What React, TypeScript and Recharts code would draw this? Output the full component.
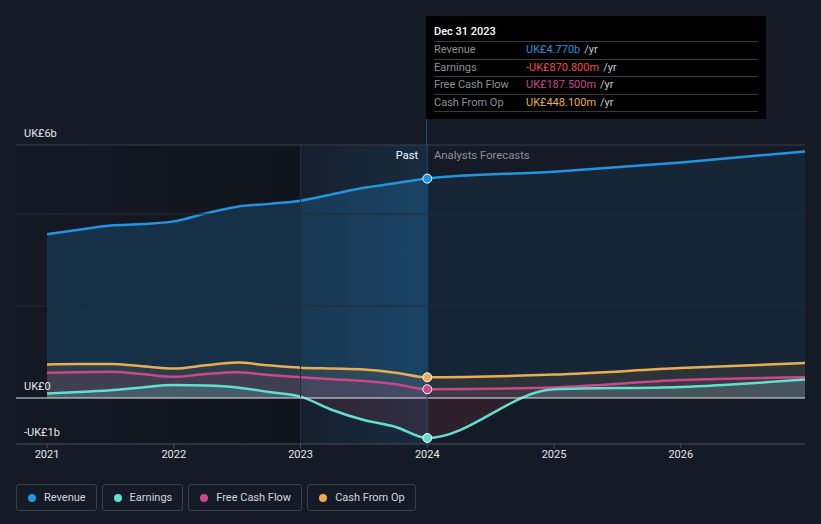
import { ComposedChart, Area, XAxis, YAxis, ReferenceLine, ReferenceArea, ReferenceDot } from 'recharts'

// period (decimal year) and values in UK£ billions
const periods = [2021, 2021.25, 2021.5, 2021.75, 2022, 2022.25, 2022.5, 2022.75, 2023, 2023.25, 2023.5, 2023.75, 2024, 2025, 2026, 2026.98]
const revenue = [3.56, 3.66, 3.75, 3.78, 3.84, 4.01, 4.16, 4.22, 4.29, 4.43, 4.57, 4.67, 4.77, 4.92, 5.12, 5.36]
const earnings = [0.1, 0.13, 0.17, 0.23, 0.28, 0.27, 0.23, 0.13, 0.03, -0.26, -0.48, -0.63, -0.87, 0.19, 0.24, 0.4]
const freeCashFlow = [0.55, 0.56, 0.57, 0.52, 0.46, 0.52, 0.56, 0.5, 0.45, 0.41, 0.37, 0.3, 0.19, 0.23, 0.39, 0.45]
const cashFromOp = [0.73, 0.74, 0.74, 0.69, 0.64, 0.71, 0.77, 0.71, 0.66, 0.64, 0.62, 0.55, 0.45, 0.51, 0.65, 0.76]

const xTicks = [2021, 2022, 2023, 2024, 2025, 2026]
const PAST_END = 2024
const HIGHLIGHT_START = 2023

const tooltipDate = 'Dec 31 2023'
const tooltipRows = [
  { name: 'Revenue', value: 'UK£4.770b', color: '#2394df' },
  { name: 'Earnings', value: '-UK£870.800m', color: '#f04a45' },
  { name: 'Free Cash Flow', value: 'UK£187.500m', color: '#c9488a' },
  { name: 'Cash From Op', value: 'UK£448.100m', color: '#e9ae55' },
]

const COLORS = {
  revenue: '#2394df',
  earnings: '#62e0cf',
  fcf: '#c9488a',
  cfo: '#e9ae55',
}

const legendItems = [
  { name: 'Revenue', color: COLORS.revenue },
  { name: 'Earnings', color: COLORS.earnings },
  { name: 'Free Cash Flow', color: COLORS.fcf },
  { name: 'Cash From Op', color: COLORS.cfo },
]

const data = periods.map((x, i) => ({
  x,
  revenue: revenue[i],
  earnings: earnings[i],
  fcf: freeCashFlow[i],
  cfo: cashFromOp[i],
}))

const pastIdx = periods.indexOf(PAST_END)
const FONT = 'Roboto, "Noto Sans", sans-serif'
const BG = '#151b26'

export default function App() {
  const yLabel = (text: string) => ({
    value: text,
    position: 'insideBottomLeft' as const,
    offset: 8,
    fill: '#e6e6e6',
    fontSize: 11,
    fontFamily: FONT,
  })

  return (
    <div style={{ position: 'absolute', left: 0, top: 0, width: 821, height: 524, background: BG, fontFamily: FONT, overflow: 'hidden' }}>
      <ComposedChart width={821} height={524} data={data} margin={{ top: 145, right: 16, bottom: 50, left: 16 }}>
        <defs>
          <linearGradient id="pastShade" x1="0" y1="0" x2="1" y2="0">
            <stop offset="0%" stopColor="#0c0f15" stopOpacity={0.15} />
            <stop offset="100%" stopColor="#0c0f15" stopOpacity={0.55} />
          </linearGradient>
          <linearGradient id="highlight" x1="0" y1="0" x2="1" y2="0">
            <stop offset="0%" stopColor="#2394df" stopOpacity={0.04} />
            <stop offset="100%" stopColor="#2394df" stopOpacity={0.14} />
          </linearGradient>
          <linearGradient id="revFill" x1="0" y1="0" x2="1" y2="0">
            <stop offset="0%" stopColor="#2394df" stopOpacity={0.2} />
            <stop offset="50.1%" stopColor="#2394df" stopOpacity={0.22} />
            <stop offset="50.1%" stopColor="#2394df" stopOpacity={0.09} />
            <stop offset="100%" stopColor="#2394df" stopOpacity={0.09} />
          </linearGradient>
          <linearGradient id="earnFill" gradientUnits="userSpaceOnUse" x1="0" y1="145" x2="0" y2="444">
            <stop offset="84.6%" stopColor="#62e0cf" stopOpacity={0.18} />
            <stop offset="84.6%" stopColor="#e0405a" stopOpacity={0.12} />
          </linearGradient>
        </defs>

        <ReferenceArea x1={2020.755} x2={HIGHLIGHT_START} fill="url(#pastShade)" fillOpacity={1} stroke="none" />
        <ReferenceArea x1={HIGHLIGHT_START} x2={PAST_END} fill="url(#highlight)" fillOpacity={1} stroke="none" />
        <ReferenceLine x={HIGHLIGHT_START} stroke="#22303f" strokeWidth={1} />

        <ReferenceLine y={2} stroke="#232c39" strokeWidth={1} />
        <ReferenceLine y={4} stroke="#232c39" strokeWidth={1} />
        <ReferenceLine y={5.5} stroke="#3b4049" strokeWidth={1} label={yLabel('UK£6b')} />
        <ReferenceLine y={-1} stroke="none" label={yLabel('-UK£1b')} />

        <XAxis
          type="number"
          dataKey="x"
          domain={[2020.755, 2026.98]}
          ticks={xTicks}
          height={30}
          allowDataOverflow
          axisLine={{ stroke: '#4a4f58' }}
          tickLine={{ stroke: '#4a4f58' }}
          tickSize={4}
          tick={{ fill: '#e6e6e6', fontSize: 11, fontFamily: FONT }}
          tickFormatter={(v) => String(v)}
        />
        <YAxis hide domain={[-1, 5.5]} allowDataOverflow />

        <Area type="monotone" dataKey="revenue" stroke={COLORS.revenue} strokeWidth={2.5} fill="url(#revFill)" fillOpacity={1} isAnimationActive={false} dot={false} activeDot={false} />
        <Area type="monotone" dataKey="cfo" stroke={COLORS.cfo} strokeWidth={2.5} fill={COLORS.cfo} fillOpacity={0.1} baseValue={0} isAnimationActive={false} dot={false} activeDot={false} />
        <Area type="monotone" dataKey="fcf" stroke={COLORS.fcf} strokeWidth={2.5} fill={COLORS.fcf} fillOpacity={0.14} baseValue={0} isAnimationActive={false} dot={false} activeDot={false} />
        <Area type="monotone" dataKey="earnings" stroke={COLORS.earnings} strokeWidth={2.5} fill="url(#earnFill)" fillOpacity={1} baseValue={0} isAnimationActive={false} dot={false} activeDot={false} />

        <ReferenceLine y={0} stroke="#e6e6e6" strokeWidth={1} label={yLabel('UK£0')} />
        <ReferenceLine x={PAST_END} stroke="#1f4a6d" strokeWidth={1} />

        <ReferenceDot x={PAST_END} y={revenue[pastIdx]} r={4.5} fill={COLORS.revenue} stroke="#ffffff" strokeWidth={1} />
        <ReferenceDot x={PAST_END} y={cashFromOp[pastIdx]} r={4.5} fill={COLORS.cfo} stroke="#ffffff" strokeWidth={1} />
        <ReferenceDot x={PAST_END} y={freeCashFlow[pastIdx]} r={4.5} fill={COLORS.fcf} stroke="#ffffff" strokeWidth={1} />
        <ReferenceDot x={PAST_END} y={earnings[pastIdx]} r={4.5} fill={COLORS.earnings} stroke="#ffffff" strokeWidth={1} />
      </ComposedChart>

      {/* cursor line above the plot */}
      <div style={{ position: 'absolute', left: 426, top: 16, width: 1, height: 129, background: '#1f4a6d' }} />

      <div style={{ position: 'absolute', left: 0, top: 149, width: 418, textAlign: 'right', color: '#ffffff', fontSize: 11 }}>Past</div>
      <div style={{ position: 'absolute', left: 434, top: 149, color: '#8c9099', fontSize: 11.3 }}>Analysts Forecasts</div>

      <div style={{ position: 'absolute', left: 426, top: 16, width: 340, height: 103, background: '#000000', boxSizing: 'border-box', padding: '0 8px' }}>
        <div style={{ color: '#ffffff', fontSize: 11, fontWeight: 500, height: 25, lineHeight: '31px' }}>{tooltipDate}</div>
        {tooltipRows.map((r) => (
          <div key={r.name} style={{ display: 'flex', borderTop: '1px solid #3a3a3a', height: 16.6, lineHeight: '16.6px', fontSize: 11 }}>
            <span style={{ width: 92, color: '#8c9099' }}>{r.name}</span>
            <span style={{ color: r.color }}>{r.value}</span>
            <span style={{ color: '#c8c8c8', marginLeft: 4 }}>/yr</span>
          </div>
        ))}
        <div style={{ borderTop: '1px solid #3a3a3a' }} />
      </div>

      <div style={{ position: 'absolute', left: 16, top: 484, display: 'flex', gap: 5 }}>
        {legendItems.map((l) => (
          <div key={l.name} style={{ display: 'flex', alignItems: 'center', height: 27, boxSizing: 'border-box', border: '1px solid #3b4049', borderRadius: 3, padding: '0 10px 0 11px', color: '#d4d6da', fontSize: 11 }}>
            <span style={{ width: 8, height: 8, borderRadius: 4, background: l.color, marginRight: 8 }} />
            {l.name}
          </div>
        ))}
      </div>
    </div>
  )
}
